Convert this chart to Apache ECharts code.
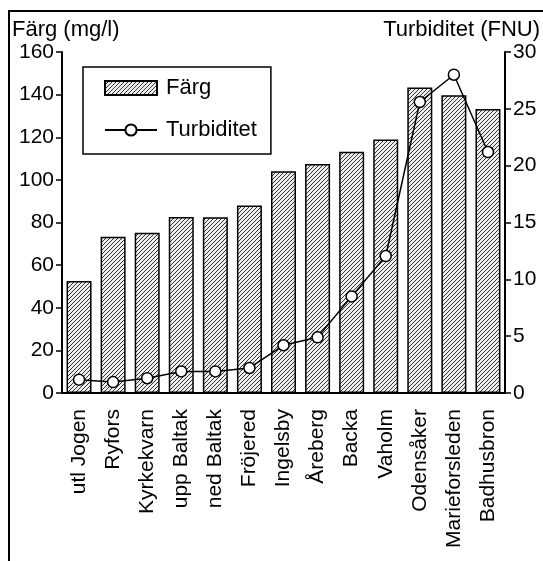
<!DOCTYPE html>
<html>
<head>
<meta charset="utf-8">
<script src="https://cdn.jsdelivr.net/npm/echarts@6/dist/echarts.min.js"></script>
<style>
html,body{margin:0;padding:0;background:#fff;}
#chart{width:543px;height:561px;}
</style>
</head>
<body>
<div id="chart"></div>
<script>
var categories = ['utl Jogen','Ryfors','Kyrkekvarn','upp Baltak','ned Baltak','Fröjered','Ingelsby','Åreberg','Backa','Vaholm','Odensåker','Marieforsleden','Badhusbron'];
var fargValues = [52.5, 73.3, 75.2, 82.6, 82.5, 88, 104, 107.5, 113.2, 119, 143.3, 139.7, 133.3];
var turbValues = [1.17, 0.96, 1.3, 1.9, 1.9, 2.2, 4.2, 4.9, 8.5, 12.05, 25.6, 28.0, 21.2];
var leftTicks = {min: 0, max: 160, interval: 20};
var rightTicks = {min: 0, max: 30, interval: 5};

function makeHatch() {
  var c = document.createElement('canvas');
  c.width = 4; c.height = 4;
  var ctx = c.getContext('2d');
  ctx.fillStyle = '#eeeeee';
  ctx.fillRect(0, 0, 4, 4);
  ctx.strokeStyle = '#333333';
  ctx.lineWidth = 1;
  ctx.beginPath();
  ctx.moveTo(-1, 5); ctx.lineTo(5, -1);
  ctx.moveTo(-1, 1); ctx.lineTo(1, -1);
  ctx.moveTo(3, 5); ctx.lineTo(5, 3);
  ctx.stroke();
  return c;
}
var hatch = {image: makeHatch(), repeat: 'repeat'};

var font = '"Liberation Sans", Arial, sans-serif';
var chart = echarts.init(document.getElementById('chart'), null, {renderer: 'canvas'});
chart.setOption({
  animation: false,
  backgroundColor: '#fff',
  textStyle: {fontFamily: font, color: '#000'},
  grid: {left: 62, right: 37, top: 52, bottom: 168, containLabel: false},
  graphic: [{
    type: 'rect',
    shape: {x: 9, y: 11, width: 700, height: 700},
    style: {fill: 'none', stroke: '#000', lineWidth: 2},
    silent: true
  }],
  legend: {
    orient: 'vertical',
    left: 83, top: 67,
    padding: [10, 14, 13, 21],
    itemWidth: 52, itemHeight: 14,
    itemGap: 20,
    borderColor: '#000', borderWidth: 1.5,
    textStyle: {fontSize: 22, color: '#000', fontFamily: font, padding: [0, 0, 0, 4]},
    data: [{name: 'Färg', icon: 'rect'}, {name: 'Turbiditet'}]
  },
  xAxis: {
    type: 'category',
    data: categories,
    axisLine: {lineStyle: {color: '#000', width: 2}},
    axisTick: {show: false},
    axisLabel: {rotate: 90, fontSize: 21, color: '#000', margin: 16, fontFamily: font, interval: 0}
  },
  yAxis: [{
    type: 'value',
    min: leftTicks.min, max: leftTicks.max, interval: leftTicks.interval,
    name: 'Färg (mg/l)',
    nameLocation: 'end',
    nameGap: 11,
    nameTextStyle: {fontSize: 22, color: '#000', align: 'left', padding: [0, 0, 0, -50], fontFamily: font},
    axisLine: {show: true, lineStyle: {color: '#000', width: 2}},
    axisTick: {show: true, length: 6, lineStyle: {color: '#000', width: 1.5}},
    axisLabel: {fontSize: 21, color: '#000', margin: 8, fontFamily: font},
    splitLine: {show: false}
  }, {
    type: 'value',
    min: rightTicks.min, max: rightTicks.max, interval: rightTicks.interval,
    name: 'Turbiditet (FNU)',
    nameLocation: 'end',
    nameGap: 11,
    nameTextStyle: {fontSize: 22, color: '#000', align: 'right', padding: [0, -35, 0, 0], fontFamily: font},
    axisLine: {show: true, lineStyle: {color: '#000', width: 2}},
    axisTick: {show: true, length: 6, lineStyle: {color: '#000', width: 1.5}},
    axisLabel: {fontSize: 21, color: '#000', margin: 8, fontFamily: font},
    splitLine: {show: false}
  }],
  series: [{
    name: 'Färg',
    type: 'bar',
    data: fargValues,
    barWidth: 25,
    itemStyle: {color: hatch, borderColor: '#000', borderWidth: 1.5}
  }, {
    name: 'Turbiditet',
    type: 'line',
    yAxisIndex: 1,
    data: turbValues,
    symbol: 'circle',
    symbolSize: 11,
    lineStyle: {color: '#000', width: 1.5},
    itemStyle: {color: '#fff', borderColor: '#000', borderWidth: 1.5},
    z: 5
  }]
});
</script>
</body>
</html>
